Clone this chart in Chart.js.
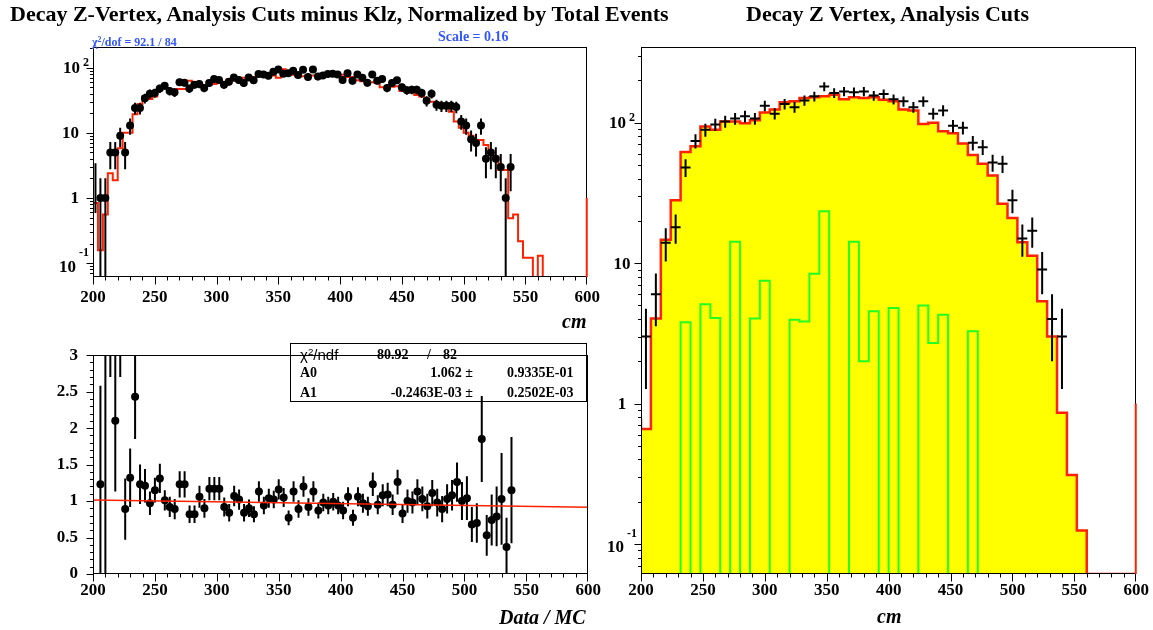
<!DOCTYPE html>
<html><head><meta charset="utf-8">
<script src="https://cdn.jsdelivr.net/npm/chart.js@4.4.1/dist/chart.umd.min.js"></script>
<style>
html,body{margin:0;padding:0;background:#fff;}
body{width:1153px;height:630px;position:relative;overflow:hidden;font-family:"Liberation Serif","Times New Roman",serif;}
canvas{position:absolute;}
.t{position:absolute;white-space:nowrap;font-weight:bold;line-height:1;z-index:5;color:#000;}
.blue{color:#3256ff;}
.it{font-style:italic;}
.sans{font-family:"Liberation Sans",Arial,sans-serif;font-weight:normal;}
sup{font-size:65%;vertical-align:0.55em;line-height:0;}
#statbox{position:absolute;left:290px;top:343px;width:297px;height:59px;border:1px solid #000;box-sizing:border-box;z-index:4;}
</style></head>
<body>
<div class="t" style="left:10px;top:3px;font-size:22px">Decay Z-Vertex, Analysis Cuts minus Klz, Normalized by Total Events</div>
<div class="t" style="left:746px;top:3px;font-size:22px">Decay Z Vertex, Analysis Cuts</div>
<div class="t blue" style="left:92px;top:36px;font-size:12px">χ<sup>2</sup>/dof = 92.1 / 84</div>
<div class="t blue" style="left:438px;top:30px;font-size:14px">Scale = 0.16</div>
<div class="t it" style="left:562px;top:311px;font-size:20px">cm</div>
<div class="t it" style="left:499px;top:607px;font-size:20px">Data / MC</div>
<div class="t it" style="left:877px;top:606px;font-size:20px">cm</div>

<div id="statbox"></div>
<div class="t sans" style="left:300px;top:347px;font-size:15px">χ<sup>2</sup>/ndf</div>
<div class="t" style="left:377px;top:348px;font-size:14px">80.92</div>
<div class="t" style="left:427px;top:348px;font-size:14px">/</div>
<div class="t" style="left:443px;top:348px;font-size:14px">82</div>
<div class="t" style="left:300px;top:366px;font-size:14px">A0</div>
<div class="t" style="right:680px;top:366px;font-size:14px">1.062 ±</div>
<div class="t" style="left:507px;top:366px;font-size:14px">0.9335E-01</div>
<div class="t" style="left:300px;top:386px;font-size:14px">A1</div>
<div class="t" style="right:680px;top:386px;font-size:14px">-0.2463E-03 ±</div>
<div class="t" style="left:507px;top:386px;font-size:14px">0.2502E-03</div>

<canvas id="c1" width="610" height="335" style="left:0;top:0"></canvas>
<canvas id="c2" width="607" height="300" style="left:0;top:330px"></canvas>
<canvas id="c3" width="555" height="630" style="left:600px;top:0"></canvas>

<script>
// ================= DATA =================
// --- Top-left: data (4 cm bins) vs normalized MC ---
const tlBinCenters = [206,210,214,218,222,226,230,234,238,242,246,250,254,258,262,266,270,274,278,282,286,290,294,298,302,306,310,314,318,322,326,330,334,338,342,346,350,354,358,362,366,370,374,378,382,386,390,394,398,402,406,410,414,418,422,426,430,434,438,442,446,450,454,458,462,466,470,474,478,482,486,490,494,498,502,506,510,514,518,522,526,530,534,538];
const tlData = [1,1,5,5,9,5,13,24,24,34,40,41,48,53,44,42,60,59,48,55,56,49,58,67,65,55,61,71,65,58,71,64,80,79,75,87,94,81,82,90,77,93,72,94,73,76,80,81,79,65,82,63,79,70,59,79,63,67,49,58,64,50,45,46,46,41,31,40,27,26,26,26,25,15,13,8,7,13,4,5,4,3,1,3];
const tlDataErr = [1,1,2.24,2.24,3,2.24,3.61,4.9,4.9,5.83,6.32,6.4,6.93,7.28,6.63,6.48,7.75,7.68,6.93,7.42,7.48,7,7.62,8.19,8.06,7.42,7.81,8.43,8.06,7.62,8.43,8,8.94,8.89,8.66,9.33,9.7,9,9.06,9.49,8.77,9.64,8.49,9.7,8.54,8.72,8.94,9,8.89,8.06,9.06,7.94,8.89,8.37,7.68,8.89,7.94,8.19,7,7.62,8,7.07,6.71,6.78,6.78,6.4,5.57,6.32,5.2,5.1,5.1,5.1,5,3.87,3.61,2.83,2.65,3.61,2,2.24,2,1.73,1,1.73];
const tlExtraCenters = [202];   // bin drawn as error bar only
const tlExtraData = [2];
const tlExtraErr = [1.41];
const tlMcLowEdges = [200,204,208,212,216,220,224,228,232,236,240,244,248,252,256,260,264,268,272,276,280,284,288,292,296,300,304,308,312,316,320,324,328,332,336,340,344,348,352,356,360,364,368,372,376,380,384,388,392,396,400,404,408,412,416,420,424,428,432,436,440,444,448,452,456,460,464,468,472,476,480,484,488,492,496,500,504,508,512,516,520,524,528,532,536,540,544,548,552,556,560,564,568,572,576,580,584,588,592,596];
const tlMc = [0,0.84,0.158,0.556,2.4,1.87,5.8,10,10,19.3,27.8,36,33,36,49,49,46,46,47,47,63,52,52,50,55,56,60,60,66,63,63,70,72,72,76,76,76,76,70,95,80,78,73,74,76,76,75,75,80,80,78,78,72,72,64,62,61,60,58,50,49,51,52,44,44,42,38,36,33,30,29,28,28,21,15,12,10,9,7.8,7.8,6.5,5.2,4.3,2.7,2.7,0.49,0.556,0.217,0.121,0.121,0,0.13,0,0,0,0,0,0,0,0];
const tlOverflow = 1;

// --- Bottom-left: Data / MC ratio with linear fit ---
const ratioCenters = tlBinCenters;
const ratioVals = [1.23,6.3,9.0,2.10,4.8,0.89,1.32,2.43,1.23,1.21,0.97,1.15,1.31,1.01,0.92,0.89,1.23,1.23,0.82,0.82,1.06,0.90,1.17,1.17,1.17,0.92,0.84,1.07,1.02,0.84,0.90,0.82,1.13,0.94,1.04,1.02,1.16,1.05,0.77,1.13,0.89,1.20,0.92,1.13,0.87,0.98,0.94,0.99,0.94,0.87,1.06,0.77,1.06,0.97,0.93,1.23,0.95,1.08,1.09,0.95,1.26,0.83,1.00,0.98,1.13,1.03,0.93,1.11,0.98,0.89,1.03,1.08,1.26,1.00,1.04,0.68,0.70,1.85,0.53,0.74,0.79,1.03,0.37,1.15];
const ratioErr = [1.35,6.5,6.3,0.97,2.1,0.42,0.40,0.58,0.27,0.23,0.16,0.17,0.20,0.14,0.14,0.14,0.18,0.18,0.12,0.12,0.15,0.13,0.16,0.16,0.16,0.13,0.12,0.14,0.14,0.12,0.12,0.11,0.14,0.12,0.13,0.12,0.14,0.13,0.10,0.14,0.12,0.14,0.12,0.14,0.11,0.12,0.12,0.12,0.12,0.12,0.13,0.11,0.13,0.13,0.13,0.16,0.13,0.15,0.16,0.14,0.17,0.13,0.16,0.15,0.17,0.17,0.17,0.18,0.19,0.18,0.20,0.21,0.27,0.26,0.30,0.24,0.27,0.59,0.28,0.35,0.41,0.63,0.40,0.73];
const fitX = [200, 600];
const fitY = [1.013, 0.914];

// --- Right: data (8 cm bins), MC (yellow), background MC (green) ---
const rBinCenters = [204,212,220,228,236,244,252,260,268,276,284,292,300,308,316,324,332,340,348,356,364,372,380,388,396,404,412,420,428,436,444,452,460,468,476,484,492,500,508,516,524,532,540];
const rData = [3,6,14,18,48,74,89,97,102,107,111,107,132,116,136,129,144,154,181,163,167,165,167,156,160,147,142,129,142,116,122,95,92,72,67,52,51,28,15,17,9,4,3];
const rDataErr = [1.73,2.45,3.74,4.24,6.93,8.6,9.43,9.85,10.1,10.34,10.54,10.34,11.49,10.77,11.66,11.36,12,12.41,13.45,12.77,12.92,12.85,12.92,12.49,12.65,12.12,11.92,11.36,11.92,10.77,11.05,9.75,9.59,8.49,8.19,7.21,7.14,5.29,3.87,4.12,3,2,1.73];
const rMcLowEdges = [200,208,216,224,232,240,248,256,264,272,280,288,296,304,312,320,328,336,344,352,360,368,376,384,392,400,408,416,424,432,440,448,456,464,472,480,488,496,504,512,520,528,536,544,552,560,568,576,584,592];
const rMc = [0.78,0.66,4.03,14.7,28,61.8,67.9,94,89,102,102,99,104,118,124,140,142,150,152,154,158,147,152,150,152,146,142,124,122,98,100,86.8,84,71,59,51,42,26.5,21,14.1,11.3,5.35,3.0,0.86,0.31,0.125,0,0,0,0];
const rGreen = [0,0,0,0,0,3.8,0,5.1,4.07,0,14.2,0,4.03,7.5,0,0,3.96,3.85,8.4,23.4,0,0,14.2,2.0,4.54,0,4.8,0,0,5.0,2.7,4.3,0,0,3.27,0,0,0,0,0,0,0,0,0,0,0,0,0,0,0];
const rOverflow = 1;

// Axis tick labels
const xTickValues = [200,250,300,350,400,450,500,550,600];
const ratioTickValues = [0,0.5,1,1.5,2,2.5,3];
const ratioTickLabels = ['0','0.5','1','1.5','2','2.5','3'];
const logTickValues = [0.1, 1, 10, 100];
const logTickBases = ['10', '1', '10', '10'];
const logTickExps = ['-1', '', '', '2'];

// ================= DRAWING =================
const FONT = '"Liberation Serif","Times New Roman",serif';
const RED = '#ff2200', GREEN = '#22ff22', YELLOW = '#ffff00';
const X_MIN = 200, X_MAX = 600;
const LOG_MIN = 0.0612;

function stepPoints(lowEdges, vals, width, floor) {
  const p = lowEdges.map((x, i) => ({x: x, y: vals[i] > 0 ? vals[i] : floor}));
  p.push({x: lowEdges[lowEdges.length - 1] + width, y: p[p.length - 1].y});
  return p;
}
function pts(xs, ys) { return xs.map((x, i) => ({x: x, y: ys[i]})); }

function rootPlugin(cfg) {
  return {
    id: 'root' + cfg.name,
    afterDatasetsDraw(chart) {
      const ctx = chart.ctx, a = chart.chartArea, xs = chart.scales.x, ys = chart.scales.y;
      const isLog = ys.type === 'logarithmic';
      ctx.save();
      ctx.beginPath(); ctx.rect(a.left, a.top, a.right - a.left, a.bottom - a.top); ctx.clip();
      ctx.strokeStyle = '#000'; ctx.lineWidth = 2; ctx.lineCap = 'butt';
      (cfg.errSets || []).forEach(s => {
        s.x.forEach((xv, i) => {
          const v = s.y[i], e = s.e[i];
          const px = xs.getPixelForValue(xv);
          const top = ys.getPixelForValue(v + e);
          const lo = v - e;
          const bot = (isLog && lo <= 0) ? a.bottom + 3 : ys.getPixelForValue(lo);
          ctx.beginPath(); ctx.moveTo(px, top); ctx.lineTo(px, bot); ctx.stroke();
          if (s.half) {
            const py = ys.getPixelForValue(v);
            ctx.beginPath();
            ctx.moveTo(xs.getPixelForValue(xv - s.half), py);
            ctx.lineTo(xs.getPixelForValue(xv + s.half), py);
            ctx.stroke();
          }
        });
      });
      if (cfg.fit) {
        ctx.strokeStyle = RED; ctx.lineWidth = 1.5;
        ctx.beginPath();
        cfg.fit.x.forEach((xv, i) => {
          const px = xs.getPixelForValue(xv), py = ys.getPixelForValue(cfg.fit.y[i]);
          if (i === 0) ctx.moveTo(px, py); else ctx.lineTo(px, py);
        });
        ctx.stroke();
      }
      ctx.restore();
    },
    afterDraw(chart) {
      const ctx = chart.ctx, a = chart.chartArea, xs = chart.scales.x, ys = chart.scales.y;
      ctx.save();
      ctx.strokeStyle = '#000'; ctx.lineWidth = 1;
      const L = Math.round(a.left) + 0.5, T = Math.round(a.top) + 0.5;
      const R = Math.round(a.right) - 0.5, B = Math.round(a.bottom) - 0.5;
      ctx.strokeRect(L, T, R - L, B - T);
      ctx.beginPath();
      for (let v = X_MIN; v <= X_MAX + 1e-6; v += 10) {
        const major = (v % 50) === 0;
        const px = Math.round(xs.getPixelForValue(v)) + (v === X_MAX ? -0.5 : 0.5);
        ctx.moveTo(px, B); ctx.lineTo(px, B + (major ? 8 : 4));
      }
      if (ys.type === 'logarithmic') {
        for (let d = -2; d <= 3; d++) {
          for (let m = 1; m <= 9; m++) {
            const v = m * Math.pow(10, d);
            if (v < ys.min || v > ys.max) continue;
            const py = Math.round(ys.getPixelForValue(v)) + 0.5;
            ctx.moveTo(L, py); ctx.lineTo(L - (m === 1 ? 7 : 3.5), py);
          }
        }
      } else {
        for (let k = 0; k <= 30; k++) {
          const v = k / 10;
          const py = Math.round(ys.getPixelForValue(v)) + 0.5;
          ctx.moveTo(L, py); ctx.lineTo(L - (k % 5 === 0 ? 7 : 3.5), py);
        }
      }
      ctx.stroke();
      if (cfg.overflow !== undefined) {
        ctx.strokeStyle = RED; ctx.lineWidth = 2;
        const px = xs.getPixelForValue(X_MAX);
        ctx.beginPath(); ctx.moveTo(px - 0.5, a.bottom); ctx.lineTo(px - 0.5, ys.getPixelForValue(cfg.overflow)); ctx.stroke();
      }
      if (cfg.logLabels) {
        ctx.fillStyle = '#000';
        ctx.textBaseline = 'middle';
        logTickValues.forEach((val, i) => {
          const base = logTickBases[i], ex = logTickExps[i];
          const py = ys.getPixelForValue(val);
          ctx.font = 'bold 17px ' + FONT;
          const bw = ctx.measureText(base).width;
          ctx.font = 'bold 12px ' + FONT;
          const ew = ex ? ctx.measureText(ex).width : 0;
          let baseRight, expLeft;
          if (cfg.logLabels.mode === 'right') {
            if (ex) { expLeft = a.left - 4 - ew; baseRight = expLeft - 3; }
            else baseRight = a.left - 14;
          } else {
            const total = bw + (ex ? ew + 3 : 0);
            const left = a.left - 19 - total / 2;
            baseRight = left + bw; expLeft = baseRight + 3;
          }
          ctx.font = 'bold 17px ' + FONT; ctx.textAlign = 'right';
          ctx.fillText(base, baseRight, py + (ex === '-1' ? 4 : 1));
          if (ex) {
            ctx.font = 'bold 12px ' + FONT; ctx.textAlign = 'left';
            ctx.fillText(ex, expLeft, py - (ex === '-1' ? 10 : 5));
          }
        });
      }
      ctx.restore();
    }
  };
}

function xScale(height, pad) {
  return {
    type: 'linear', min: X_MIN, max: X_MAX,
    afterFit: s => { s.height = height; },
    grid: {display: false, drawTicks: false}, border: {display: false},
    afterBuildTicks: s => { s.ticks = xTickValues.map(v => ({value: v})); },
    ticks: {autoSkip: false, maxRotation: 0, color: '#000', padding: pad,
            font: {family: FONT, weight: 'bold', size: 17}, callback: v => String(v)}
  };
}
function logScale(width, max) {
  return {
    type: 'logarithmic', min: LOG_MIN, max: max,
    afterFit: s => { s.width = width; },
    grid: {display: false, drawTicks: false}, border: {display: false},
    ticks: {display: false}
  };
}
const common = {
  responsive: false, animation: false, events: [],
  plugins: {legend: {display: false}, tooltip: {enabled: false}, title: {display: false}}
};

// ---- Chart 1: top-left ----
new Chart(document.getElementById('c1'), {
  type: 'line',
  data: {datasets: [
    {data: pts(tlBinCenters, tlData), showLine: false, pointRadius: 4, pointBackgroundColor: '#000', pointBorderWidth: 0},
    {data: stepPoints(tlMcLowEdges, tlMc, 4, LOG_MIN), stepped: 'after', borderColor: RED, borderWidth: 2, pointRadius: 0, fill: false}
  ]},
  options: Object.assign({}, common, {
    layout: {padding: {left: 0, right: 13, top: 47, bottom: 0}},
    scales: {x: xScale(58, 10), y: logScale(93, 208)}
  }),
  plugins: [rootPlugin({name: 'tl',
    errSets: [{x: tlBinCenters, y: tlData, e: tlDataErr}, {x: tlExtraCenters, y: tlExtraData, e: tlExtraErr}],
    overflow: tlOverflow, logLabels: {mode: 'right'}})]
});

// ---- Chart 2: ratio ----
new Chart(document.getElementById('c2'), {
  type: 'line',
  data: {datasets: [
    {data: pts(ratioCenters, ratioVals), showLine: false, pointRadius: 4, pointBackgroundColor: '#000', pointBorderWidth: 0}
  ]},
  options: Object.assign({}, common, {
    layout: {padding: {left: 0, right: 13, top: 13, bottom: 0}},
    scales: {
      x: xScale(56, 6),
      y: {type: 'linear', min: 0, max: 3,
          afterFit: s => { s.width = 93; },
          afterBuildTicks: s => { s.ticks = ratioTickValues.map(v => ({value: v})); },
          grid: {display: false, drawTicks: false}, border: {display: false},
          ticks: {color: '#000', padding: 15, font: {family: FONT, weight: 'bold', size: 17},
                  callback: (v) => ratioTickLabels[ratioTickValues.indexOf(v)]}}
    }
  }),
  plugins: [rootPlugin({name: 'ratio',
    errSets: [{x: ratioCenters, y: ratioVals, e: ratioErr}],
    fit: {x: fitX, y: fitY}})]
});

// ---- Chart 3: right ----
new Chart(document.getElementById('c3'), {
  type: 'line',
  data: {datasets: [
    {data: stepPoints(rMcLowEdges, rGreen, 8, LOG_MIN), stepped: 'after', borderColor: GREEN, borderWidth: 2, pointRadius: 0, fill: false},
    {data: stepPoints(rMcLowEdges, rMc, 8, LOG_MIN), stepped: 'after', borderColor: RED, borderWidth: 2.5, pointRadius: 0,
     fill: 'start', backgroundColor: YELLOW}
  ]},
  options: Object.assign({}, common, {
    layout: {padding: {left: 0, right: 18, top: 47, bottom: 0}},
    scales: {x: xScale(56, 6), y: logScale(41, 346)}
  }),
  plugins: [rootPlugin({name: 'r',
    errSets: [{x: rBinCenters, y: rData, e: rDataErr, half: 4}],
    overflow: rOverflow, logLabels: {mode: 'center'}})]
});
</script>
</body></html>
